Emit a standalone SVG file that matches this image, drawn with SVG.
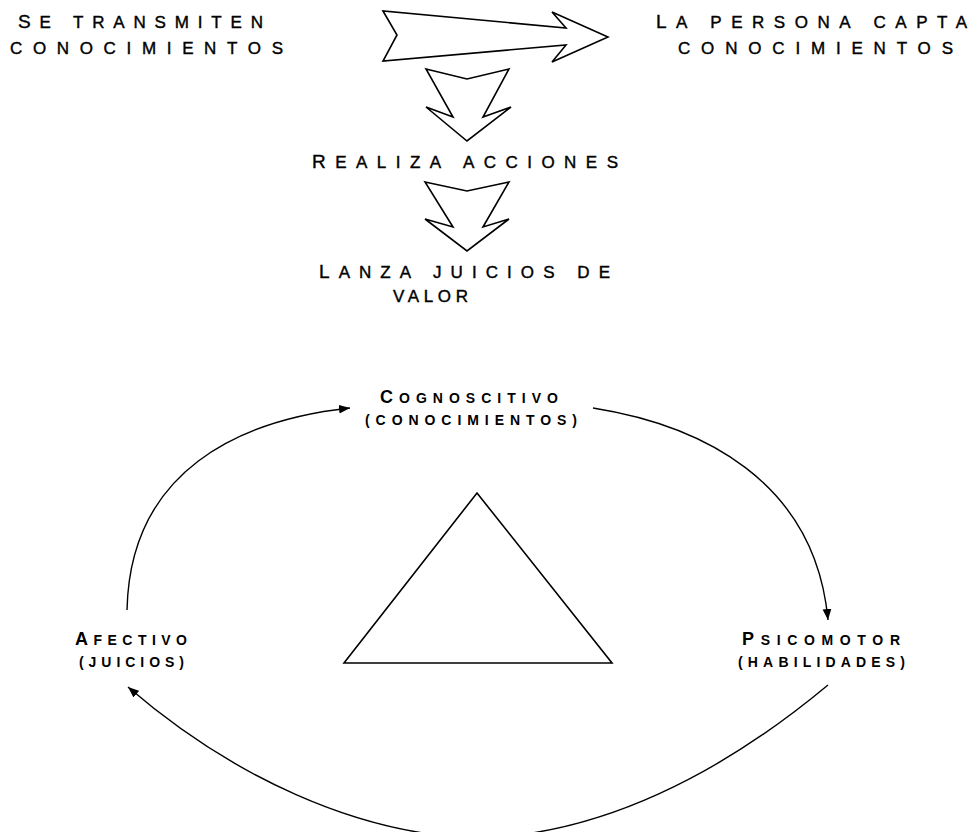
<svg xmlns="http://www.w3.org/2000/svg" width="979" height="832" viewBox="0 0 979 832">
<style>
.t{font-family:"Liberation Sans",Arial,sans-serif;font-size:17px;fill:#000;stroke:#000;stroke-width:0.4}
.b{font-family:"Liberation Sans",Arial,sans-serif;font-size:14px;font-weight:bold;fill:#000}
.big{font-size:19px}
.bigb{font-size:18px}
.shape{fill:#fff;stroke:#000;stroke-width:1.6;stroke-linejoin:miter}
.conn{fill:none;stroke:#000;stroke-width:1.4}
</style>
<defs>
<marker id="ah" viewBox="0 0 10 10" refX="10" refY="5" markerWidth="11" markerHeight="11" markerUnits="userSpaceOnUse" orient="auto">
<path d="M0,1 L10,5 L0,9 Z" fill="#000"/>
</marker>
</defs>
<rect width="979" height="832" fill="#fff"/>

<g id="n-transmiten">
<text class="t" x="18" y="28" textLength="245" lengthAdjust="spacing"><tspan class="big">S</tspan>E TRANSMITEN</text>
<text class="t" x="10" y="54" textLength="273" lengthAdjust="spacing">CONOCIMIENTOS</text>
</g>
<g id="n-capta">
<text class="t" x="656" y="28" textLength="311" lengthAdjust="spacing"><tspan class="big">L</tspan>A PERSONA CAPTA</text>
<text class="t" x="678" y="54" textLength="275" lengthAdjust="spacing">CONOCIMIENTOS</text>
</g>
<g id="n-realiza">
<text class="t" x="312" y="168" textLength="306" lengthAdjust="spacing"><tspan class="big">R</tspan>EALIZA ACCIONES</text>
</g>
<g id="n-juicios">
<text class="t" x="319" y="278" textLength="291" lengthAdjust="spacing"><tspan class="big">L</tspan>ANZA JUICIOS DE</text>
<text class="t" x="393" y="302" textLength="75" lengthAdjust="spacing">VALOR</text>
</g>

<g id="arrows-top">
<polygon class="shape" points="383,11 397,35 383,61 566,45 552,62 608,37 552,12 566,28"/>
<polygon class="shape" points="426,69 467,79 509,69 483,117 511,107 467,141 426,107 453,117"/>
<polygon class="shape" points="425,182 467,191 509,182 483,227 509,219 467,251 425,219 453,227"/>
</g>

<g id="n-cognoscitivo">
<text class="b" x="380" y="403" textLength="178" lengthAdjust="spacing"><tspan class="bigb">C</tspan>OGNOSCITIVO</text>
<text class="b" x="365" y="425" textLength="212" lengthAdjust="spacing">(CONOCIMIENTOS)</text>
</g>
<g id="n-afectivo">
<text class="b" x="75" y="645" textLength="112" lengthAdjust="spacing"><tspan class="bigb">A</tspan>FECTIVO</text>
<text class="b" x="79" y="667" textLength="105" lengthAdjust="spacing">(JUICIOS)</text>
</g>
<g id="n-psicomotor">
<text class="b" x="742" y="645" textLength="158" lengthAdjust="spacing"><tspan class="bigb">P</tspan>SICOMOTOR</text>
<text class="b" x="738" y="667" textLength="167" lengthAdjust="spacing">(HABILIDADES)</text>
</g>

<g id="n-triangle">
<polygon class="shape" points="477,493 612,663 344,663"/>
</g>

<g id="connectors">
<path class="conn" d="M127,610 C130,470 240,420 350,408" marker-end="url(#ah)"/>
<path class="conn" d="M593,408 C700,425 815,480 828,620" marker-end="url(#ah)"/>
<path class="conn" d="M828,685 C720,775 600,835 478,838 C356,835 230,775 128,687" marker-end="url(#ah)"/>
</g>
</svg>
